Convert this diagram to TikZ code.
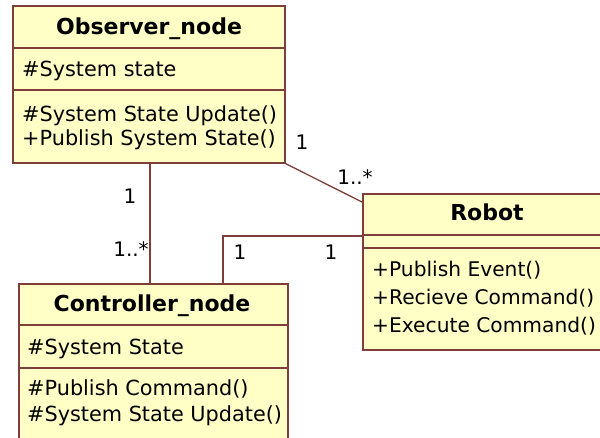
\documentclass[tikz,border=0pt]{standalone}
\usepackage{fontspec}
\setmainfont{DejaVu Sans}
\usetikzlibrary{calc}
\definecolor{umlfill}{HTML}{FFFFC6}
\definecolor{umlline}{HTML}{7E3F3A}
\begin{document}
\begin{tikzpicture}[x=1pt,y=-1pt,
  classbox/.style={draw=umlline, fill=umlfill, line width=1.6pt, inner sep=0,
    anchor=north west},
  divider/.style={draw=umlline, line width=1.6pt},
  assoc/.style={draw=umlline, line width=1.3pt},
  txt/.style={inner sep=0, text height=0.72em, text depth=0pt},
  title/.style={txt, font=\fontsize{22}{26}\selectfont\bfseries},
  member/.style={txt, anchor=west, font=\fontsize{20.8}{25}\selectfont},
  rmember/.style={member, font=\fontsize{20.2}{25}\selectfont},
  mult/.style={txt, font=\fontsize{20}{24}\selectfont}]
\useasboundingbox (0,0) rectangle (600,437);
\clip (0,0) rectangle (600,437);

% class boxes
\node[classbox, minimum width=272pt, minimum height=157pt] (obs) at (12,5) {};
\node[classbox, minimum width=269pt, minimum height=170pt] (ctl) at (18,283) {};
\node[classbox, minimum width=260pt, minimum height=156pt] (rob) at (362,193) {};

% compartment dividers
\draw[divider] ($(obs.north west)+(0,43)$) -- ($(obs.north east)+(0,43)$);
\draw[divider] ($(obs.north west)+(0,85)$) -- ($(obs.north east)+(0,85)$);
\draw[divider] ($(ctl.north west)+(0,42)$) -- ($(ctl.north east)+(0,42)$);
\draw[divider] ($(ctl.north west)+(0,85)$) -- ($(ctl.north east)+(0,85)$);
\draw[divider] ($(rob.north west)+(0,42)$) -- ($(rob.north east)+(0,42)$);
\draw[divider] ($(rob.north west)+(0,55)$) -- ($(rob.north east)+(0,55)$);

% Observer_node
\node[title] (obsT) at (149,31) {Observer\_node};
\node[member] (obsA) at (22,73) {\#System state};
\node[member] (obsO1) at (22,118) {\#System State Update()};
\node[member] (obsO2) at (22,142) {+Publish System State()};

% Controller_node
\node[title] (ctlT) at (152,308) {Controller\_node};
\node[member] (ctlA) at (27,351) {\#System State};
\node[member] (ctlO1) at (27,392) {\#Publish Command()};
\node[member] (ctlO2) at (27,418) {\#System State Update()};

% Robot
\node[title] (robT) at (487,217) {Robot};
\node[rmember] (robO1) at (372,273) {+Publish Event()};
\node[rmember] (robO2) at (372,301) {+Recieve Command()};
\node[rmember] (robO3) at (372,329) {+Execute Command()};

% associations
\coordinate (oc1) at ($(obs.south west)+(138,0)$);
\coordinate (oc2) at ($(ctl.north west)+(132,0)$);
\draw[assoc] (oc1) -- (oc2);
\coordinate (or2) at ($(rob.north west)+(0,9)$);
\draw[assoc] (obs.south east) -- (or2);
\coordinate (cr1) at ($(ctl.north west)+(205,0)$);
\coordinate (cr2) at ($(rob.north west)+(0,43)$);
\draw[assoc] (cr1) |- (cr2);

% multiplicities
\node[mult] (m1) at (130,200) {1};
\node[mult] (m2) at (131,253) {1..*};
\node[mult] (m3) at (302,146) {1};
\node[mult] (m4) at (355,181) {1..*};
\node[mult] (m5) at (240,256) {1};
\node[mult] (m6) at (331,256) {1};
\end{tikzpicture}
\end{document}
